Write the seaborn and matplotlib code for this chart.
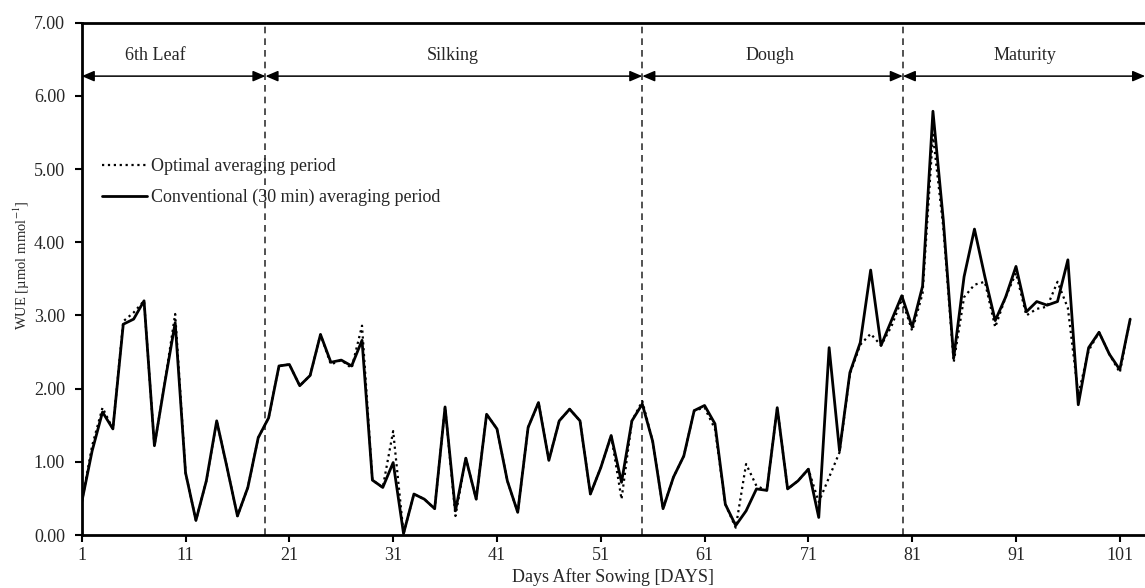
import matplotlib
matplotlib.use("Agg")
import numpy as np
import pandas as pd
import matplotlib.pyplot as plt
import seaborn as sns

# Daily WUE values (days 1..102)
days = list(range(1, 103))

conventional = [
    0.45, 1.15, 1.68, 1.45, 2.88, 2.95, 3.20, 1.22, 2.08, 2.90,   # 1-10
    0.85, 0.20, 0.74, 1.56, 0.92, 0.26, 0.65, 1.33, 1.60, 2.31,   # 11-20
    2.33, 2.04, 2.18, 2.74, 2.36, 2.39, 2.31, 2.66, 0.75, 0.65,   # 21-30
    0.99, 0.02, 0.56, 0.49, 0.36, 1.75, 0.33, 1.05, 0.49, 1.65,   # 31-40
    1.45, 0.74, 0.31, 1.47, 1.81, 1.02, 1.56, 1.72, 1.56, 0.56,   # 41-50
    0.92, 1.36, 0.72, 1.56, 1.79, 1.28, 0.36, 0.79, 1.08, 1.70,   # 51-60
    1.77, 1.52, 0.42, 0.13, 0.33, 0.63, 0.61, 1.74, 0.63, 0.74,   # 61-70
    0.90, 0.24, 2.56, 1.15, 2.22, 2.63, 3.62, 2.59, 2.93, 3.27,   # 71-80
    2.84, 3.40, 5.79, 4.30, 2.42, 3.53, 4.18, 3.53, 2.93, 3.25,   # 81-90
    3.67, 3.05, 3.19, 3.14, 3.19, 3.76, 1.78, 2.56, 2.77, 2.47,   # 91-100
    2.26, 2.95,
]

optimal = [
    0.45, 1.22, 1.74, 1.45, 2.92, 3.04, 3.20, 1.22, 2.08, 3.02,
    0.85, 0.20, 0.74, 1.56, 0.92, 0.26, 0.65, 1.33, 1.60, 2.31,
    2.33, 2.04, 2.18, 2.74, 2.33, 2.39, 2.28, 2.86, 0.75, 0.65,
    1.42, 0.02, 0.56, 0.49, 0.36, 1.75, 0.26, 1.05, 0.49, 1.65,
    1.45, 0.74, 0.31, 1.47, 1.81, 1.02, 1.56, 1.72, 1.56, 0.56,
    0.92, 1.36, 0.49, 1.56, 1.83, 1.28, 0.36, 0.79, 1.08, 1.70,
    1.74, 1.45, 0.42, 0.10, 0.97, 0.67, 0.61, 1.74, 0.63, 0.74,
    0.90, 0.45, 0.79, 1.13, 2.20, 2.60, 2.75, 2.59, 2.85, 3.22,
    2.79, 3.30, 5.47, 4.20, 2.36, 3.25, 3.42, 3.46, 2.84, 3.25,
    3.58, 3.00, 3.09, 3.12, 3.46, 3.10, 1.92, 2.52, 2.77, 2.47,
    2.22, 2.95,
]

# Growth stages: boundaries in days and label positions
stage_names = ["6th Leaf", "Silking", "Dough", "Maturity"]
stage_bounds = [1, 18.7, 55.0, 80.1, 103.44]
stage_label_x = [8.1, 36.7, 67.3, 91.9]

x_ticks = list(range(1, 102, 10))
y_ticks = [0, 1, 2, 3, 4, 5, 6, 7]

sns.set_style("ticks")
plt.rcParams['font.family'] = ['Liberation Serif', 'DejaVu Serif']
plt.rcParams['mathtext.fontset'] = 'stix'

fig = plt.figure(figsize=(11.45, 5.88), dpi=100)
ax = fig.add_axes([0.0714, 0.0901, 0.9287, 0.8713])

sns.lineplot(x=days, y=optimal, ax=ax, color='black', lw=1.6, linestyle=':',
             label='Optimal averaging period')
sns.lineplot(x=days, y=conventional, ax=ax, color='black', lw=2.0,
             label='Conventional (30 min) averaging period')

# stage separators
for b in stage_bounds[1:-1]:
    ax.axvline(b, color='#333333', lw=1.2, ls=(0, (4, 3)), zorder=1)

# stage arrows and labels
for i, name in enumerate(stage_names):
    ax.annotate('', xy=(stage_bounds[i], 6.27), xytext=(stage_bounds[i + 1], 6.27),
                arrowprops=dict(arrowstyle='<|-|>,head_length=0.75,head_width=0.32',
                                color='black', lw=1.1, shrinkA=0, shrinkB=0,
                                mutation_scale=10))
    ax.text(stage_label_x[i], 6.55, name, ha='center', va='center', fontsize=13)

ax.set_xlim(1, stage_bounds[-1])
ax.set_ylim(0, 7)
ax.set_xticks(x_ticks)
ax.set_yticks(y_ticks)
ax.set_yticklabels([f"{v:.2f}" for v in y_ticks])
ax.tick_params(direction='out', length=5, width=1.5, labelsize=13, color='black')
ax.tick_params(axis='y', pad=7)

for side in ['left', 'bottom', 'top']:
    ax.spines[side].set_linewidth(2.0)
    ax.spines[side].set_color('black')
ax.spines['right'].set_visible(False)

ax.set_xlabel('Days After Sowing [DAYS]', fontsize=13, labelpad=3)
ax.set_ylabel('WUE [µmol mmol$^{-1}$]', fontsize=10.5)
ax.yaxis.set_label_coords(-0.047, 0.527)

ax.legend(loc='upper left', bbox_to_anchor=(0.019, 0.736), frameon=False,
          handlelength=2.5, handletextpad=0.2, labelspacing=0.78, fontsize=13,
          borderpad=0, borderaxespad=0)

fig.savefig('out.png', dpi=100)
